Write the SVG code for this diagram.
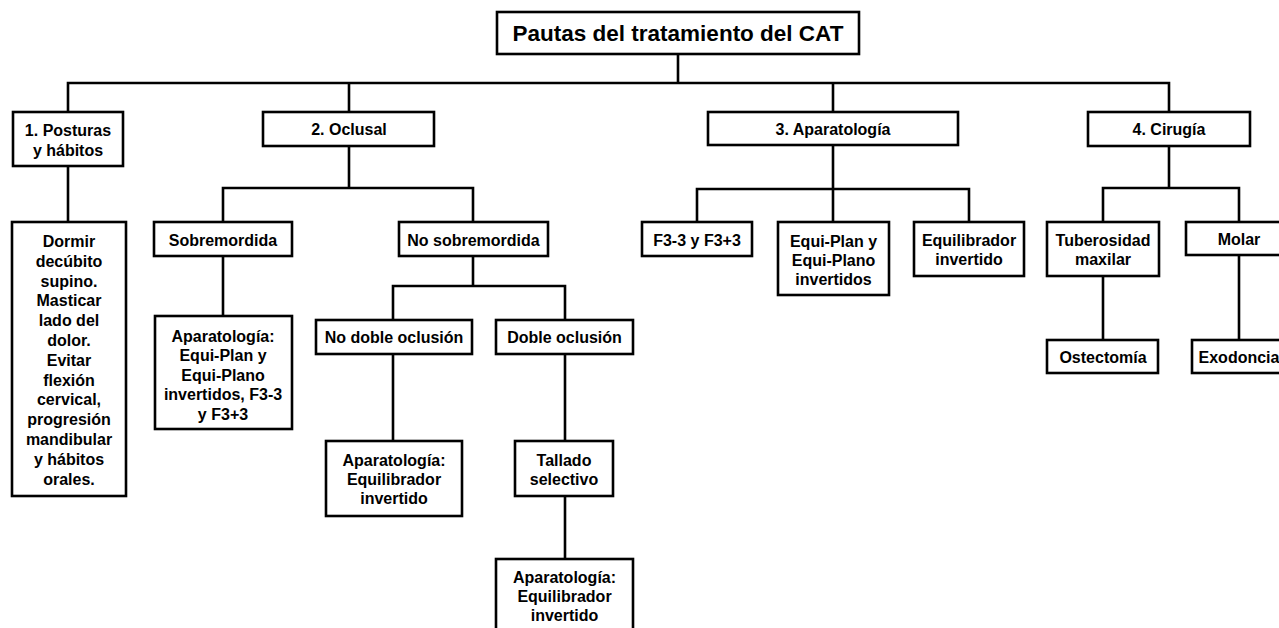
<svg xmlns="http://www.w3.org/2000/svg" width="1279" height="628" viewBox="0 0 1279 628">
<style>
.b{fill:#fff;stroke:#000;stroke-width:2.6}
.t{font-family:"Liberation Sans",Arial,sans-serif;font-weight:bold;font-size:16px;fill:#000;text-anchor:middle}
.title{font-size:22.5px}
.c{stroke:#000;stroke-width:2.6;fill:none;stroke-linecap:square}
</style>
<rect width="1279" height="628" fill="#fff"/>
<g id="connectors">
<path class="c" d="M678,54V83M68,83H1169M68,83V112M349,83V112M833,83V112M1169,83V112"/>
<path class="c" d="M68,166V222"/>
<path class="c" d="M349,146V188M223,188H473M223,188V222M473,188V222M223,256V316"/>
<path class="c" d="M473,256V286M393,286H565M393,286V320M565,286V320M393,354V441M565,354V441M565,496V559"/>
<path class="c" d="M833,145V189M697,189H969M697,189V222M833,189V222M969,189V222"/>
<path class="c" d="M1169,146V188M1103,188H1239M1103,188V222M1239,188V222M1103,276V340M1239,255V340"/>
</g>
<g id="title"><rect class="b" x="497" y="12" width="362" height="42"/><text class="t title" x="678" y="41">Pautas del tratamiento del CAT</text></g>
<g id="n1"><rect class="b" x="13" y="112" width="110" height="54"/><text class="t" x="68" y="136">1. Posturas</text><text class="t" x="68" y="156">y hábitos</text></g>
<g id="n2"><rect class="b" x="263" y="112" width="171" height="34"/><text class="t" x="349" y="135">2. Oclusal</text></g>
<g id="n3"><rect class="b" x="708" y="112" width="250" height="33"/><text class="t" x="833" y="135">3. Aparatología</text></g>
<g id="n4"><rect class="b" x="1088" y="112" width="162" height="34"/><text class="t" x="1169" y="135">4. Cirugía</text></g>
<g id="dormir"><rect class="b" x="12" y="222" width="114" height="274"/>
<text class="t" x="69" y="247">Dormir</text><text class="t" x="69" y="266.8">decúbito</text><text class="t" x="69" y="286.6">supino.</text><text class="t" x="69" y="306.4">Masticar</text><text class="t" x="69" y="326.2">lado del</text><text class="t" x="69" y="346">dolor.</text><text class="t" x="69" y="365.8">Evitar</text><text class="t" x="69" y="385.6">flexión</text><text class="t" x="69" y="405.4">cervical,</text><text class="t" x="69" y="425.2">progresión</text><text class="t" x="69" y="445">mandibular</text><text class="t" x="69" y="464.8">y hábitos</text><text class="t" x="69" y="484.6">orales.</text></g>
<g id="sobre"><rect class="b" x="154" y="222" width="138" height="34"/><text class="t" x="223" y="245.5">Sobremordida</text></g>
<g id="sobre-ap"><rect class="b" x="155" y="316" width="137" height="113"/>
<text class="t" x="223" y="341.5">Aparatología:</text><text class="t" x="223" y="361">Equi-Plan y</text><text class="t" x="223" y="380.5">Equi-Plano</text><text class="t" x="223" y="400">invertidos, F3-3</text><text class="t" x="223" y="419.5">y F3+3</text></g>
<g id="nosobre"><rect class="b" x="399" y="222" width="149" height="34"/><text class="t" x="473.5" y="245.5">No sobremordida</text></g>
<g id="nodoble"><rect class="b" x="316" y="320" width="156" height="34"/><text class="t" x="394" y="343">No doble oclusión</text></g>
<g id="doble"><rect class="b" x="496" y="320" width="137" height="34"/><text class="t" x="564.5" y="343">Doble oclusión</text></g>
<g id="nodoble-ap"><rect class="b" x="326" y="441" width="136" height="75"/><text class="t" x="394" y="466">Aparatología:</text><text class="t" x="394" y="485">Equilibrador</text><text class="t" x="394" y="504">invertido</text></g>
<g id="tallado"><rect class="b" x="515" y="441" width="98" height="55"/><text class="t" x="564" y="465.5">Tallado</text><text class="t" x="564" y="484.5">selectivo</text></g>
<g id="doble-ap"><rect class="b" x="496" y="559" width="137" height="82"/><text class="t" x="564.5" y="583">Aparatología:</text><text class="t" x="564.5" y="602">Equilibrador</text><text class="t" x="564.5" y="621">invertido</text></g>
<g id="f3"><rect class="b" x="642" y="222" width="110" height="34"/><text class="t" x="697" y="245.5">F3-3 y F3+3</text></g>
<g id="equiplan"><rect class="b" x="778" y="222" width="111" height="73"/><text class="t" x="833.5" y="247">Equi-Plan y</text><text class="t" x="833.5" y="266">Equi-Plano</text><text class="t" x="833.5" y="285">invertidos</text></g>
<g id="equilib"><rect class="b" x="914" y="222" width="110" height="54"/><text class="t" x="969" y="245.5">Equilibrador</text><text class="t" x="969" y="264.5">invertido</text></g>
<g id="tuber"><rect class="b" x="1047" y="222" width="112" height="54"/><text class="t" x="1103" y="245.5">Tuberosidad</text><text class="t" x="1103" y="264.5">maxilar</text></g>
<g id="molar"><rect class="b" x="1186" y="222" width="104" height="33"/><text class="t" x="1239" y="244.5">Molar</text></g>
<g id="ostec"><rect class="b" x="1047" y="340" width="111" height="33"/><text class="t" x="1103" y="362.5">Ostectomía</text></g>
<g id="exodon"><rect class="b" x="1192" y="340" width="98" height="33"/><text class="t" x="1239" y="362.5">Exodoncia</text></g>
</svg>
